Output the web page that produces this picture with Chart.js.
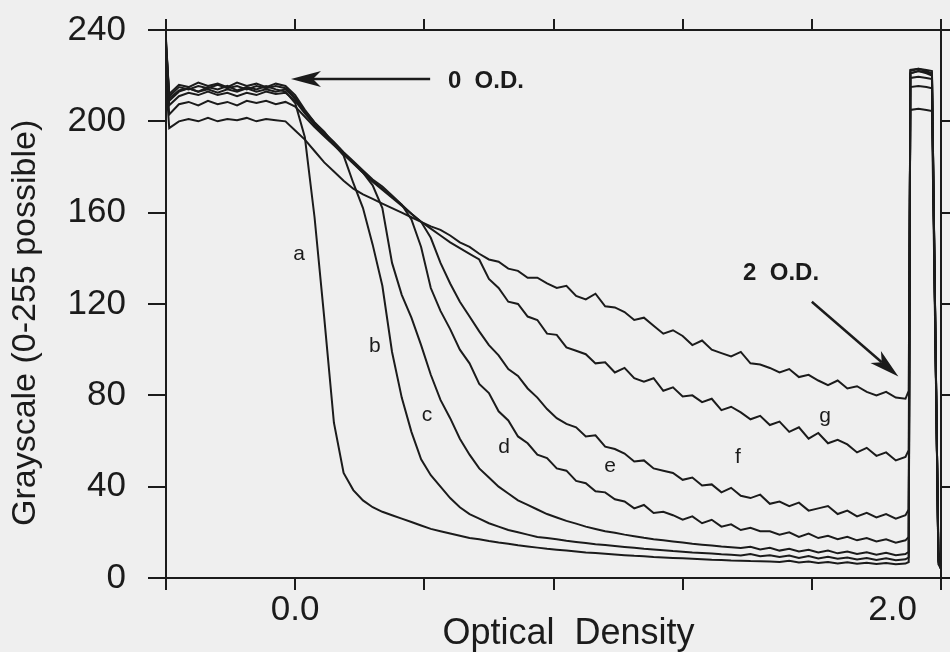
<!DOCTYPE html>
<html>
<head>
<meta charset="utf-8">
<script src="https://cdn.jsdelivr.net/npm/chart.js@4.4.1/dist/chart.umd.min.js"></script>
<style>
  html, body { margin: 0; padding: 0; background: #efefef; }
  canvas { display: block; }
</style>
</head>
<body>
<canvas id="densityChart" width="950" height="652"></canvas>
<script>
// position along the step tablet, in optical density units
const odSteps = [
  -0.40, -0.39, -0.36, -0.33, -0.30, -0.27, -0.24, -0.21, -0.18, -0.15,
  -0.12, -0.09, -0.06, -0.03, 0.00, 0.03, 0.06, 0.09, 0.12, 0.15,
  0.18, 0.21, 0.24, 0.27, 0.30, 0.33, 0.36, 0.39, 0.42, 0.45,
  0.48, 0.51, 0.54, 0.57, 0.60, 0.63, 0.66, 0.69, 0.72, 0.75,
  0.78, 0.81, 0.84, 0.87, 0.90, 0.93, 0.96, 0.99, 1.02, 1.05,
  1.08, 1.11, 1.14, 1.17, 1.20, 1.23, 1.26, 1.29, 1.32, 1.35,
  1.38, 1.41, 1.44, 1.47, 1.50, 1.53, 1.56, 1.59, 1.62, 1.65,
  1.68, 1.71, 1.74, 1.77, 1.80, 1.83, 1.86, 1.89, 1.90, 1.905,
  1.93, 1.955, 1.972, 1.992, 2.00
];

// grayscale traces a .. g
const curveA = [
  236, 210, 213.5, 214.5, 213, 215, 214, 215.5, 213.5, 215,
  214, 215.5, 214, 213, 208, 193, 158, 114, 68, 46,
  38.5, 34, 31, 29, 27.5, 26, 24.5, 23, 21.5, 20.5,
  19.5, 18.5, 17.5, 17, 16.2, 15.5, 15, 14.3, 13.8, 13.3,
  12.8, 12.4, 12, 11.6, 11.2, 10.9, 10.6, 10.3, 10, 9.7,
  9.5, 9.2, 9, 8.8, 8.6, 8.4, 8.2, 8, 7.9, 7.7,
  7.6, 7.4, 7.3, 7.2, 7, 7.5, 6.8, 7.2, 6.6, 7,
  6.4, 6.9, 6.2, 6.7, 6.1, 6.6, 6, 6.3, 7, 222,
  223, 222, 221, 7, 4
];
const curveB = [
  234, 212, 216, 215, 217, 215.5, 216.5, 215, 217, 215.5,
  216.5, 215, 216.5, 215.5, 211.5, 205, 199.5, 195.5, 190, 185,
  173, 162, 146, 128, 99, 79, 64, 52, 45, 40,
  35, 31, 28, 26, 24, 22.5, 21, 20, 19, 18,
  17.5, 17, 16.3, 15.8, 15.3, 14.8, 14.4, 14, 13.6, 13.2,
  12.8, 12.5, 12.2, 11.8, 11.5, 11.2, 11, 10.7, 10.4, 10.2,
  9.9, 10.5, 9.5, 10, 9.2, 9.8, 8.8, 9.6, 8.6, 9.3,
  8.4, 9, 8.1, 8.8, 7.9, 8.6, 7.8, 8.2, 9, 221,
  222, 221.5, 220.5, 6, 4
];
const curveC = [
  233, 211, 215, 214, 215.5, 214.5, 216, 214.5, 215.5, 214,
  215.5, 214.5, 215.5, 214.5, 210.5, 204, 199, 194.5, 190.5, 186,
  182, 177.5, 172, 162, 138, 124, 114, 102, 89, 78,
  70, 61, 54, 48, 44, 40, 37, 34, 32, 30,
  28, 26.5, 25, 23.8, 22.5, 21.5, 20.5, 19.8, 19, 18.3,
  17.6, 17, 16.5, 16, 15.5, 15, 14.6, 14.2, 13.8, 13.5,
  13.1, 13.7, 12.5, 13.2, 12, 12.8, 11.6, 12.4, 11.2, 12,
  10.8, 11.6, 10.5, 11.3, 10.2, 11, 10, 10.5, 11.5, 222.5,
  223, 222.5, 222, 7.5, 4
];
const curveD = [
  235, 209, 213, 214.5, 213, 214, 212.5, 214, 213, 214.5,
  213, 214, 213, 214, 210, 204.5, 199.5, 195, 191, 186.5,
  182.5, 178.5, 174.5, 171.5, 167.5, 163.5, 157, 145, 127, 117,
  109, 100, 94, 85, 81, 73, 69, 62, 59, 54,
  52.5, 48, 47, 42.5, 41.5, 38, 37.5, 34.5, 33.5, 30.5,
  32, 28.5, 29, 27.5, 25.5, 27, 24, 25.5, 22.5, 23.5,
  21, 22, 20.5, 20.5, 19, 20, 18, 19.5, 17.5, 18.5,
  17, 18, 16.5, 17.5, 16, 17, 15.5, 16.5, 18, 221,
  222, 221, 220, 8, 4
];
const curveE = [
  230, 207, 211, 212.5, 211.5, 213, 211.5, 212.5, 211, 212.5,
  211.5, 213, 212, 212.5, 209, 203.5, 198.5, 194, 190, 186,
  182, 178, 174, 170.5, 167, 163.5, 159.5, 156, 149, 138,
  129, 121, 114.5, 108, 102, 97.5, 91.5, 88.5, 83, 79,
  74, 70, 67.5, 66, 62, 62.5, 57.5, 56.5, 54.5, 51,
  51.5, 48, 47, 46, 43, 44, 40.5, 41, 37.5, 39.5,
  36, 35, 36.5, 32.5, 33.5, 31.5, 33, 29.5, 30.5, 31.5,
  28, 29.5, 27, 28.5, 26.5, 28, 26, 27.5, 30, 219,
  219.5, 219, 218.5, 9, 5
];
const curveF = [
  226, 203, 207.5, 208.5, 207, 209, 207.5, 208.5, 207, 209,
  208, 209, 207.5, 208.5, 206.5, 202, 197.5, 193.5, 189.5, 185.5,
  181.5, 177.5, 173.5, 170, 166.5, 163, 159.5, 156, 153, 150,
  147, 144.5, 142, 139.5, 131, 127, 121, 120, 114.5, 113,
  107, 106.5, 101, 99.5, 98, 94, 94.5, 90, 92, 87.5,
  86, 87.5, 82, 83.5, 79.5, 80, 77, 78.5, 73.5, 75,
  72.5, 69.5, 71, 67, 68.5, 64, 66, 61, 63.5, 59,
  60.5, 58.5, 55, 57, 53.5, 55, 51.5, 53, 56, 215,
  215.5, 215, 214.5, 10, 5
];
const curveG = [
  218, 197, 200, 201, 200, 201.5, 200, 201, 200.5, 201.5,
  200, 201, 200.5, 200, 196, 192, 187, 182, 178, 174,
  170.5, 168, 166, 164, 162, 160, 158, 156, 154, 152.5,
  150, 147, 145, 142, 139.5, 138.5, 135.5, 134.5, 131.5, 131.5,
  129, 127, 128, 123.5, 122, 124.5, 119, 118.5, 116.5, 113,
  114, 110.5, 107, 108.5, 106, 102, 104, 100, 98.5, 97,
  99, 94, 93.5, 92, 90, 91.5, 88, 89, 86.5, 84.5,
  86.5, 83, 84, 81.5, 80, 81.5, 79, 78.5, 82, 205,
  205.5, 205, 204.5, 12, 6
];

const curves = [curveA, curveB, curveC, curveD, curveE, curveF, curveG];
const curveNames = ['a', 'b', 'c', 'd', 'e', 'f', 'g'];
const nameX = [0.012, 0.247, 0.408, 0.647, 0.975, 1.371, 1.641];
const nameY = [142, 101.5, 71.5, 57.5, 49, 53, 71];

const yTickValues = [0, 40, 80, 120, 160, 200, 240];
const xTickValues = [-0.4, 0, 0.4, 0.8, 1.2, 1.6, 2.0];
const xLabelValues = [0, 1.85];
const xLabelText = ['0.0', '2.0'];

// callouts: text, text anchor, arrow tail, arrow tip
const calloutText = ['0  O.D.', '2  O.D.'];
const calloutAt = [[0.473, 217.3], [1.387, 133.4]];
const arrowFrom = [[0.418, 218.5], [1.600, 121.0]];
const arrowTo = [[-0.013, 218.5], [1.868, 88.2]];

const ink = '#1b1b1b';
const family = '"Liberation Sans", Arial, Helvetica, sans-serif';
Chart.defaults.font.family = family;
Chart.defaults.color = ink;

const fixSize = (w, h) => s => {
    if (w !== null) s.width = w;
    if (h !== null) s.height = h;
    s.paddingLeft = s.paddingRight = s.paddingTop = s.paddingBottom = 0;
};
const setTicks = values => s => { s.ticks = values.map(v => ({ value: v })); };

function drawArrow(ctx, x1, y1, x2, y2) {
    const ang = Math.atan2(y2 - y1, x2 - x1);
    const len = 30, half = 8, notch = 22;
    ctx.lineWidth = 2.5;
    ctx.beginPath();
    ctx.moveTo(x1, y1);
    ctx.lineTo(x2 - Math.cos(ang) * notch, y2 - Math.sin(ang) * notch);
    ctx.stroke();
    ctx.save();
    ctx.translate(x2, y2);
    ctx.rotate(ang);
    ctx.beginPath();
    ctx.moveTo(0, 0);
    ctx.lineTo(-len, -half);
    ctx.lineTo(-notch, 0);
    ctx.lineTo(-len, half);
    ctx.closePath();
    ctx.fill();
    ctx.restore();
}

const annotate = {
    id: 'annotate',
    afterDatasetsDraw(chart) {
        const { ctx, scales: { x, y } } = chart;
        ctx.save();
        ctx.fillStyle = ink;
        ctx.strokeStyle = ink;
        ctx.textBaseline = 'middle';

        ctx.font = '21px ' + family;
        ctx.textAlign = 'center';
        curveNames.forEach((n, i) => {
            ctx.fillText(n, x.getPixelForValue(nameX[i]), y.getPixelForValue(nameY[i]));
        });

        ctx.font = 'bold 24px ' + family;
        ctx.textAlign = 'left';
        calloutText.forEach((t, i) => {
            ctx.fillText(t, x.getPixelForValue(calloutAt[i][0]), y.getPixelForValue(calloutAt[i][1]));
            drawArrow(ctx,
                x.getPixelForValue(arrowFrom[i][0]), y.getPixelForValue(arrowFrom[i][1]),
                x.getPixelForValue(arrowTo[i][0]), y.getPixelForValue(arrowTo[i][1]));
        });
        ctx.restore();
    }
};

new Chart(document.getElementById('densityChart'), {
    type: 'line',
    data: {
        datasets: curves.map((arr, i) => ({
            label: curveNames[i],
            data: odSteps.map((od, k) => ({ x: od, y: arr[k] })),
            borderColor: ink,
            borderWidth: 2,
            pointRadius: 0,
            tension: 0,
            fill: false
        }))
    },
    options: {
        responsive: false,
        animation: false,
        events: [],
        layout: { padding: 0 },
        plugins: { legend: { display: false }, tooltip: { enabled: false } },
        scales: {
            x: {
                type: 'linear', position: 'bottom', min: -0.4, max: 2.0,
                afterBuildTicks: setTicks(xTickValues),
                afterFit: fixSize(null, 12),
                ticks: { display: false },
                grid: { drawOnChartArea: false, tickLength: 12, color: ink, lineWidth: 2 },
                border: { color: ink, width: 2 }
            },
            xLabels: {
                type: 'linear', position: 'bottom', min: -0.4, max: 2.0,
                afterBuildTicks: setTicks(xLabelValues),
                afterFit: fixSize(null, 62),
                ticks: {
                    autoSkip: false, maxRotation: 0, minRotation: 0, padding: 3,
                    font: { size: 35, lineHeight: 1 },
                    callback: (v, i) => xLabelText[i]
                },
                grid: { display: false, drawTicks: false },
                border: { display: false },
                title: { display: true, text: '   Optical  Density', font: { size: 36, lineHeight: 1 }, padding: 0 }
            },
            xTop: {
                type: 'linear', position: 'top', min: -0.4, max: 2.0,
                afterBuildTicks: setTicks(xTickValues),
                afterFit: fixSize(null, 30),
                ticks: { display: false },
                grid: { drawOnChartArea: false, tickLength: 11, color: ink, lineWidth: 2 },
                border: { color: ink, width: 2 }
            },
            y: {
                type: 'linear', position: 'left', min: 0, max: 240,
                afterBuildTicks: setTicks(yTickValues),
                afterFit: fixSize(166, null),
                ticks: { padding: 22, font: { size: 35, lineHeight: 1 } },
                grid: { drawOnChartArea: false, tickLength: 18, color: ink, lineWidth: 2 },
                border: { color: ink, width: 2 },
                title: { display: true, text: 'Grayscale (0-255 possible)    ', font: { size: 34, lineHeight: 1 }, padding: { top: 9, bottom: 0 } }
            },
            yRight: {
                type: 'linear', position: 'right', min: 0, max: 240,
                afterBuildTicks: setTicks(yTickValues),
                afterFit: fixSize(9, null),
                ticks: { display: false },
                grid: { drawOnChartArea: false, tickLength: 10, color: ink, lineWidth: 2 },
                border: { color: ink, width: 2 }
            }
        }
    },
    plugins: [annotate]
});
</script>
</body>
</html>
